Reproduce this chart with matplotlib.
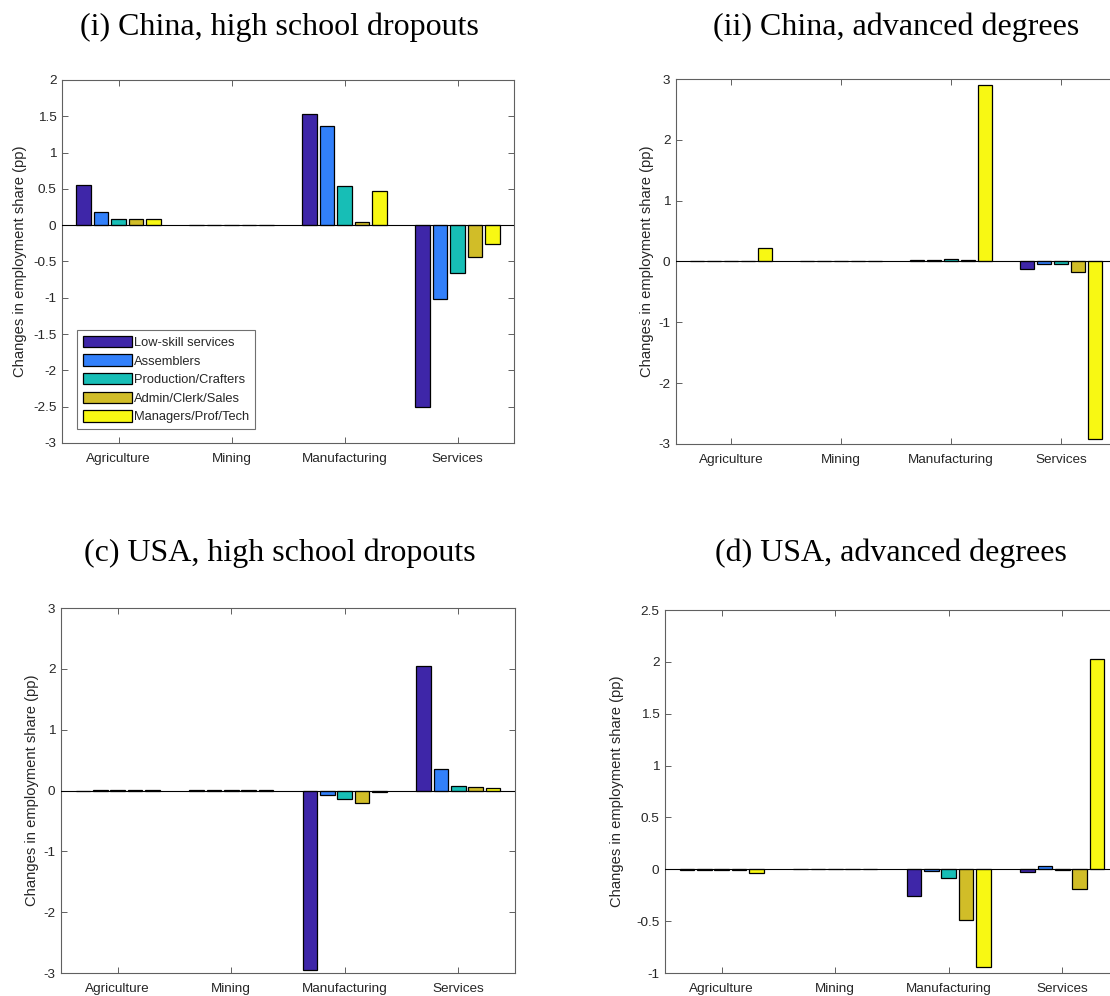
import matplotlib
matplotlib.use("Agg")
import matplotlib.pyplot as plt
import numpy as np
from matplotlib.ticker import FixedLocator, FuncFormatter

plt.rcParams["axes.unicode_minus"] = False
plt.rcParams["font.family"] = ["Liberation Sans", "DejaVu Sans"]

sectors = ["Agriculture", "Mining", "Manufacturing", "Services"]
occupations = ["Low-skill services", "Assemblers", "Production/Crafters",
               "Admin/Clerk/Sales", "Managers/Prof/Tech"]
colors = ["#3E26A8", "#3280FA", "#17BEB6", "#D1BD28", "#F8F813"]

# Changes in employment share (pp); one row per occupation, one column per sector
china_dropouts = [
    [0.55, 0.004, 1.53, -2.50],
    [0.18, 0.004, 1.36, -1.01],
    [0.09, 0.004, 0.54, -0.66],
    [0.08, 0.004, 0.045, -0.44],
    [0.085, 0.004, 0.47, -0.26],
]
china_advanced = [
    [0.005, 0.003, 0.03, -0.12],
    [0.005, 0.003, 0.03, -0.04],
    [0.005, 0.003, 0.04, -0.045],
    [0.005, 0.003, 0.02, -0.17],
    [0.23, 0.003, 2.90, -2.92],
]
usa_dropouts = [
    [-0.005, 0.002, -2.95, 2.05],
    [0.002, 0.002, -0.08, 0.35],
    [0.001, 0.001, -0.14, 0.08],
    [0.001, 0.001, -0.20, 0.06],
    [0.001, 0.001, -0.02, 0.04],
]
usa_advanced = [
    [-0.005, -0.002, -0.26, -0.025],
    [-0.005, -0.002, -0.02, 0.035],
    [-0.005, -0.002, -0.085, -0.01],
    [-0.005, -0.002, -0.49, -0.19],
    [-0.035, -0.002, -0.94, 2.03],
]

titles = ["(i) China, high school dropouts", "(ii) China, advanced degrees",
          "(c) USA, high school dropouts", "(d) USA, advanced degrees"]

W, H = 1110, 996
fig = plt.figure(figsize=(W / 100, H / 100), dpi=100)


def px_axes(left, top, right, bottom):
    return fig.add_axes([left / W, 1 - bottom / H, (right - left) / W, (bottom - top) / H])


panels = [
    dict(data=china_dropouts, box=(62, 80, 514, 443), ylim=(-3, 2), step=0.5,
         title_xy=(279, 27), ylab_x=27, legend=True),
    dict(data=china_advanced, box=(676, 79, 1116, 444), ylim=(-3, 3), step=1,
         title_xy=(896, 27), ylab_x=654, legend=False),
    dict(data=usa_dropouts, box=(61, 608, 515, 973), ylim=(-3, 3), step=1,
         title_xy=(280, 553), ylab_x=39, legend=False),
    dict(data=usa_advanced, box=(665, 610, 1119, 973), ylim=(-1, 2.5), step=0.5,
         title_xy=(891, 553), ylab_x=624, legend=False),
]

axis_col = "#606060"
text_col = "#262626"
x = np.arange(1, len(sectors) + 1)
n = len(occupations)
spacing = 0.154
bar_w = 0.128

for p, title in zip(panels, titles):
    ax = px_axes(*p["box"])
    data = p["data"]
    handles = []
    for i in range(n):
        offs = (i - (n - 1) / 2) * spacing
        h = ax.bar(x + offs, data[i], width=bar_w, color=colors[i],
                   edgecolor="black", linewidth=0.9, label=occupations[i], zorder=3)
        handles.append(h)
    ax.axhline(0, color="black", linewidth=0.8, zorder=4)
    ax.set_xlim(0.5, len(sectors) + 0.5)
    ax.set_ylim(*p["ylim"])
    yt = np.arange(p["ylim"][0], p["ylim"][1] + 1e-9, p["step"])
    ax.yaxis.set_major_locator(FixedLocator(yt))
    ax.yaxis.set_major_formatter(FuncFormatter(lambda v, pos: "%g" % round(v, 2)))
    ax.set_xticks(x)
    ax.set_xticklabels(sectors)
    ax.tick_params(axis="both", direction="in", length=4.5, width=0.7,
                   color=axis_col, labelcolor=text_col, labelsize=9.7,
                   top=True, right=True)
    ax.tick_params(axis="x", pad=7)
    ax.tick_params(axis="y", pad=4)
    for s in ax.spines.values():
        s.set_color(axis_col)
        s.set_linewidth(0.8)
    ax.set_ylabel("Changes in employment share (pp)", fontsize=10.6, color=text_col)
    ax.yaxis.set_label_coords((p["ylab_x"] - p["box"][0]) / (p["box"][2] - p["box"][0]),
                              0.5)
    tx, ty = p["title_xy"]
    fig.text(tx / W, 1 - ty / H, title, ha="center", va="center",
             fontsize=23, family=["Liberation Serif", "DejaVu Serif"], color="black")
    if p["legend"]:
        leg = ax.legend(handles=handles, loc="lower left",
                        bbox_to_anchor=(0.033, 0.038), borderaxespad=0,
                        fontsize=9.3, handlelength=3.8, handleheight=1.0,
                        handletextpad=0.2, labelspacing=0.42, borderpad=0.45,
                        fancybox=False, framealpha=1, edgecolor="#707070")
        leg.get_frame().set_linewidth(0.8)
        for t in leg.get_texts():
            t.set_color(text_col)

fig.savefig("out.png", dpi=100)
